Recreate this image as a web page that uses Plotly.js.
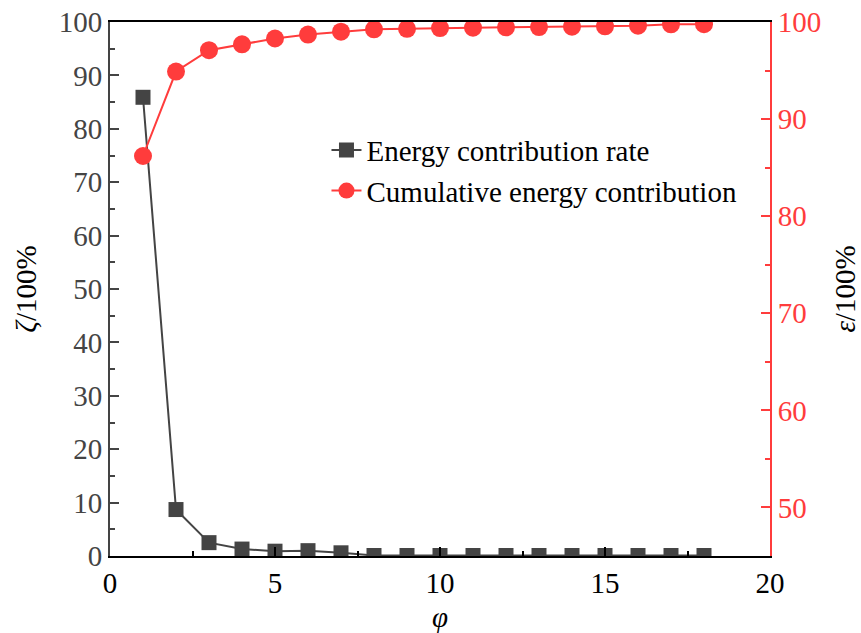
<!DOCTYPE html>
<html>
<head>
<meta charset="utf-8">
<script src="https://cdn.plot.ly/plotly-3.0.1.min.js"></script>
<style>html,body{margin:0;padding:0;background:#fff;}#chart{width:861px;height:633px;}</style>
</head>
<body>
<div id="chart"></div>
<script>
const phi = [1,2,3,4,5,6,7,8,9,10,11,12,13,14,15,16,17,18];
const energyRate = [85.9,8.7,2.5,1.3,0.9,1.0,0.6,0.1,0.1,0.1,0.1,0.1,0.1,0.1,0.1,0.1,0.1,0.1];
const cumulative = [86.2,94.9,97.1,97.7,98.3,98.7,99.0,99.25,99.3,99.38,99.41,99.45,99.48,99.52,99.56,99.62,99.76,99.78];

const FONT = '"Liberation Serif", "Times New Roman", serif';
const GRAY = '#444444';
const RED = '#ff3c3c';
const FS = 29;

const traces = [
  {
    x: phi, y: energyRate, name: 'Energy contribution rate', type: 'scatter', mode: 'lines+markers',
    line: {color: GRAY, width: 2}, marker: {symbol: 'square', size: 15, color: GRAY},
    cliponaxis: true, yaxis: 'y'
  },
  {
    x: phi, y: cumulative, name: 'Cumulative energy contribution', type: 'scatter', mode: 'lines+markers',
    line: {color: RED, width: 2}, marker: {symbol: 'circle', size: 18, color: RED},
    cliponaxis: true, yaxis: 'y2'
  }
];

const layout = {
  width: 861, height: 633,
  margin: {l: 110, r: 91, t: 22, b: 77},
  paper_bgcolor: '#fff', plot_bgcolor: '#fff',
  font: {family: FONT, size: FS, color: '#000'},
  showlegend: true,
  legend: {x: 0.328, y: 0.808, xanchor: 'left', yanchor: 'top', bgcolor: 'rgba(0,0,0,0)',
           font: {family: FONT, size: FS, color: '#000'}, tracegroupgap: 0},
  xaxis: {
    range: [0, 20], dtick: 5, tick0: 0, showgrid: false, zeroline: false,
    showline: true, linecolor: '#000', linewidth: 2, mirror: true,
    ticks: 'inside', ticklen: 9, tickwidth: 2, tickcolor: '#000',
    minor: {dtick: 2.5, ticks: 'inside', ticklen: 5, tickwidth: 2, tickcolor: '#000', showgrid: false},
    tickfont: {family: FONT, size: FS, color: '#000'},
    title: {text: '<i>φ</i>', font: {family: FONT, size: FS, color: '#000'}, standoff: 14}
  },
  yaxis: {
    range: [0, 100], dtick: 10, showgrid: false, zeroline: false,
    showline: true, linecolor: GRAY, linewidth: 2,
    ticks: 'inside', ticklen: 9, tickwidth: 2, tickcolor: GRAY,
    minor: {dtick: 5, ticks: 'inside', ticklen: 5, tickwidth: 2, tickcolor: GRAY, showgrid: false},
    tickfont: {family: FONT, size: FS, color: GRAY},
    title: {text: '<i>ζ</i>/100%', font: {family: FONT, size: FS, color: '#000'}, standoff: 14}
  },
  yaxis2: {
    range: [45, 100], dtick: 10, tick0: 50, overlaying: 'y', side: 'right', showgrid: false, zeroline: false,
    showline: true, linecolor: RED, linewidth: 2,
    ticks: 'inside', ticklen: 9, tickwidth: 2, tickcolor: RED,
    minor: {dtick: 5, tick0: 45, ticks: 'inside', ticklen: 5, tickwidth: 2, tickcolor: RED, showgrid: false},
    tickfont: {family: FONT, size: FS, color: RED},
    title: {text: '<i>ε</i>/100%', font: {family: FONT, size: FS, color: '#000'}, standoff: 14}
  }
};

Plotly.newPlot('chart', traces, layout, {displayModeBar: false, staticPlot: true});
</script>
</body>
</html>
